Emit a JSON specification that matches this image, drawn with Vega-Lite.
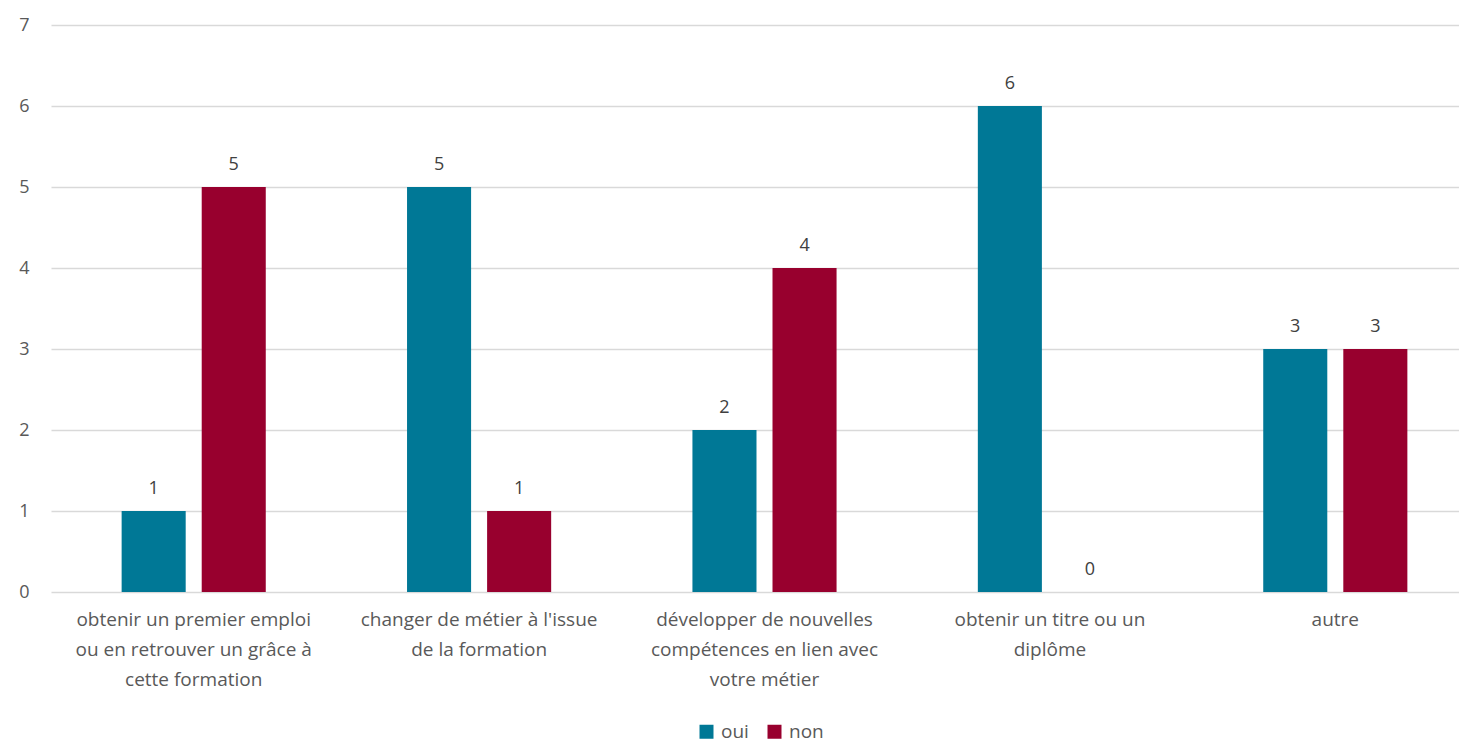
{
  "$schema": "https://vega.github.io/schema/vega-lite/v6.json",
  "width": 1427,
  "height": 567,
  "autosize": {"type": "none"},
  "padding": {"left": 51, "top": 25, "right": 0, "bottom": 152},
  "background": "white",
  "data": {
    "values": [
      {"cat": "obtenir un premier emploi ou en retrouver un grâce à cette formation", "rep": "oui", "n": 1},
      {"cat": "obtenir un premier emploi ou en retrouver un grâce à cette formation", "rep": "non", "n": 5},
      {"cat": "changer de métier à l'issue de la formation", "rep": "oui", "n": 5},
      {"cat": "changer de métier à l'issue de la formation", "rep": "non", "n": 1},
      {"cat": "développer de nouvelles compétences en lien avec votre métier", "rep": "oui", "n": 2},
      {"cat": "développer de nouvelles compétences en lien avec votre métier", "rep": "non", "n": 4},
      {"cat": "obtenir un titre ou un diplôme", "rep": "oui", "n": 6},
      {"cat": "obtenir un titre ou un diplôme", "rep": "non", "n": 0},
      {"cat": "autre", "rep": "oui", "n": 3},
      {"cat": "autre", "rep": "non", "n": 3}
    ]
  },
  "encoding": {
    "x": {
      "field": "cat", "type": "nominal", "sort": null,
      "scale": {"paddingInner": 0.495, "paddingOuter": 0.2475},
      "axis": {
        "title": null, "labelAngle": 0, "ticks": false, "domain": false,
        "labelFont": "Open Sans", "labelFontSize": 19, "labelColor": "#595959",
        "labelPadding": 18, "labelLineHeight": 30, "labelLimit": 400,
        "labelExpr": "datum.label == 'obtenir un premier emploi ou en retrouver un grâce à cette formation' ? ['obtenir un premier emploi', 'ou en retrouver un grâce à', 'cette formation'] : datum.label == \"changer de métier à l'issue de la formation\" ? [\"changer de métier à l'issue\", 'de la formation'] : datum.label == 'développer de nouvelles compétences en lien avec votre métier' ? ['développer de nouvelles', 'compétences en lien avec', 'votre métier'] : datum.label == 'obtenir un titre ou un diplôme' ? ['obtenir un titre ou un', 'diplôme'] : datum.label"
      }
    },
    "xOffset": {
      "field": "rep", "type": "nominal", "sort": ["oui", "non"],
      "scale": {"paddingInner": 0.2, "paddingOuter": 0}
    },
    "y": {
      "field": "n", "type": "quantitative",
      "scale": {"domain": [0, 7]},
      "axis": {
        "title": null, "values": [0, 1, 2, 3, 4, 5, 6, 7], "labelOverlap": false,
        "ticks": false, "domain": false,
        "labelFont": "Open Sans", "labelFontSize": 18, "labelColor": "#595959",
        "labelPadding": 22, "gridColor": "#d9d9d9", "gridWidth": 1.5
      }
    },
    "color": {
      "field": "rep", "type": "nominal", "sort": ["oui", "non"],
      "scale": {"domain": ["oui", "non"], "range": ["#007896", "#98002e"]},
      "legend": {
        "title": null, "orient": "none", "legendX": 646, "legendY": 697,
        "direction": "horizontal", "padding": 0,
        "symbolType": "square", "symbolSize": 196, "symbolStrokeWidth": 0,
        "labelFont": "Open Sans", "labelFontSize": 19, "labelColor": "#595959",
        "columnPadding": 16, "labelOffset": 5
      }
    }
  },
  "layer": [
    {"mark": {"type": "bar"}},
    {
      "mark": {"type": "text", "baseline": "bottom", "dy": -13, "font": "Open Sans", "fontSize": 18},
      "encoding": {
        "text": {"field": "n", "type": "quantitative"},
        "color": {"value": "#404040"}
      }
    }
  ],
  "config": {"view": {"stroke": null}}
}
